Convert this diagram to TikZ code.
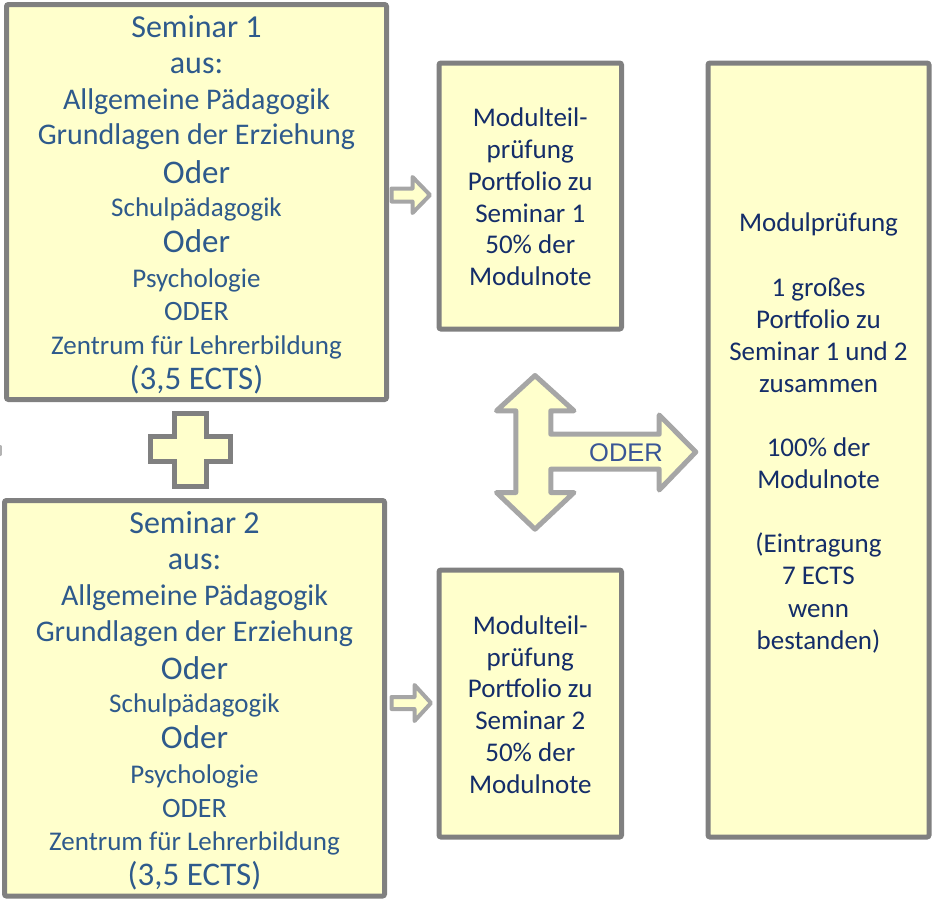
\documentclass[tikz,border=0pt]{standalone}
\usepackage{fontspec}
\setmainfont{Carlito}
\newfontfamily\arialfont{Liberation Sans}
\definecolor{paleyellow}{HTML}{FFFFCC}
\definecolor{boxgray}{HTML}{808080}
\definecolor{arrowgray}{HTML}{A6A6A6}
\definecolor{leftblue}{RGB}{46,90,140}
\definecolor{navyblue}{RGB}{20,45,105}
\definecolor{oderblue}{RGB}{58,86,150}
\begin{document}
\begin{tikzpicture}[x=1pt,y=-1pt,
  panel/.style={draw=boxgray, line width=5pt, fill=paleyellow, rounded corners=2pt, inner sep=0pt},
  ltext/.style={align=center, text=leftblue, inner sep=0pt, font=\fontsize{27}{35.2}\selectfont},
  mtext/.style={align=center, text=navyblue, inner sep=0pt, font=\fontsize{27}{31.8}\selectfont},
  rtext/.style={align=center, text=navyblue, inner sep=0pt, font=\fontsize{27}{32.1}\selectfont},
  blockarrow/.style={draw=arrowgray, fill=paleyellow, line join=round},
  plusshape/.style={draw=boxgray, fill=paleyellow, line width=5pt, line join=miter}
]
\useasboundingbox (0,0) rectangle (932,902);

% boxes
\node[panel, minimum width=380, minimum height=395] (s1) at (196.5,202) {};
\node[panel, minimum width=380, minimum height=395.5] (s2) at (194.5,698.25) {};
\node[panel, minimum width=182.5, minimum height=266] (m1) at (530.25,196) {};
\node[panel, minimum width=182.5, minimum height=267] (m2) at (530.25,703.5) {};
\node[panel, minimum width=221, minimum height=774] (r) at (818.5,450) {};

% texts of seminar boxes
\node[ltext] (s1t) at ([yshift=-2.5pt]s1.center) {%
{\fontsize{32}{35.2}\selectfont Seminar 1}\\[1pt]
{\fontsize{32}{35.2}\selectfont aus:}\\[1pt]
{\fontsize{30}{35.2}\selectfont Allgemeine Pädagogik}\\
{\fontsize{30}{35.2}\selectfont Grundlagen der Erziehung}\\[3pt]
{\fontsize{33}{35.2}\selectfont Oder}\\[-2pt]
Schulpädagogik\\[1pt]
{\fontsize{33}{35.2}\selectfont Oder}\\
Psychologie\\[-2pt]
{\fontsize{28}{35.2}\selectfont ODER}\\[-2pt]
Zentrum für Lehrerbildung\\
{\fontsize{33}{35.2}\selectfont (3,5 ECTS)}};

\node[ltext] (s2t) at ([yshift=-2.5pt]s2.center) {%
{\fontsize{32}{35.2}\selectfont Seminar 2}\\[1pt]
{\fontsize{32}{35.2}\selectfont aus:}\\[1pt]
{\fontsize{30}{35.2}\selectfont Allgemeine Pädagogik}\\
{\fontsize{30}{35.2}\selectfont Grundlagen der Erziehung}\\[3pt]
{\fontsize{33}{35.2}\selectfont Oder}\\[-2pt]
Schulpädagogik\\[1pt]
{\fontsize{33}{35.2}\selectfont Oder}\\
Psychologie\\[-2pt]
{\fontsize{28}{35.2}\selectfont ODER}\\[-2pt]
Zentrum für Lehrerbildung\\
{\fontsize{33}{35.2}\selectfont (3,5 ECTS)}};

\node[mtext] (m1t) at (530.25,197) {Modulteil-\\prüfung\\Portfolio zu\\Seminar 1\\50\% der\\Modulnote};
\node[mtext] (m2t) at (530.25,704.5) {Modulteil-\\prüfung\\Portfolio zu\\Seminar 2\\50\% der\\Modulnote};

\node[rtext] (rt) at (818.5,433) {Modulprüfung\\[32.1pt]
1 großes\\Portfolio zu\\Seminar 1 und 2\\zusammen\\[32.1pt]
100\% der\\Modulnote\\[32.1pt]
(Eintragung\\7 ECTS\\wenn\\bestanden)};

% small arrows from the seminar boxes to the part exams
\draw[blockarrow, line width=4pt] (391.5,188.5) -- (412.5,188.5) -- (412.5,177) -- (430,195) -- (412.5,213) -- (412.5,201.5) -- (391.5,201.5) -- cycle;
\draw[blockarrow, line width=4pt] (391.5,697) -- (414.5,697) -- (414.5,685) -- (431,703) -- (414.5,721) -- (414.5,709) -- (391.5,709) -- cycle;

% plus sign
\draw[plusshape] (174.8,413.2) -- (206.8,413.2) -- (206.8,436.8) -- (230.8,436.8) -- (230.8,461.8) -- (206.8,461.8) -- (206.8,486.8) -- (174.8,486.8) -- (174.8,461.8) -- (150.8,461.8) -- (150.8,436.8) -- (174.8,436.8) -- cycle;

% T-shaped block arrow
\draw[blockarrow, line width=5pt] (535,375.5) -- (574,410.8) -- (550.8,410.8) -- (550.8,434.2) -- (659.2,434.2) -- (659.2,415) -- (695.8,452) -- (659.2,490) -- (659.2,469.2) -- (550.8,469.2) -- (550.8,492.5) -- (574,492.5) -- (535,529.2) -- (496.5,492.5) -- (515.8,492.5) -- (515.8,410.8) -- (496.5,410.8) -- cycle;
\node[inner sep=0pt, text=oderblue, font=\arialfont\fontsize{25.5}{30}\selectfont] (oder) at (626,453) {ODER};

% faint mark at the left edge
\draw[boxgray!60, line width=2pt, line cap=round] (0.5,446) -- (0.5,455);
\end{tikzpicture}
\end{document}
